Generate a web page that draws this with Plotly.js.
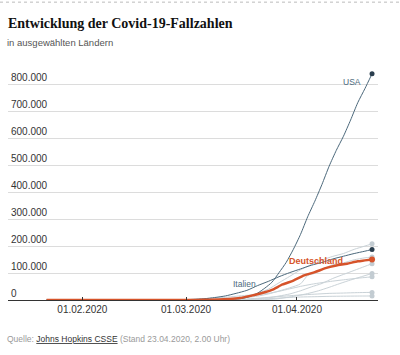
<!DOCTYPE html>
<html>
<head>
<meta charset="utf-8">
<script src="https://cdn.plot.ly/plotly-3.0.1.min.js"></script>
<style>html,body{margin:0;padding:0;background:#fff;}#chart{width:400px;height:355px;}</style>
</head>
<body>
<div id="chart"></div>
<script>
// ---- data (JHU CSSE cumulative confirmed cases) ----
const usaDates = ['2020-01-22','2020-02-01','2020-02-15','2020-03-01','2020-03-05','2020-03-10','2020-03-13','2020-03-15','2020-03-17','2020-03-19','2020-03-21','2020-03-23','2020-03-25','2020-03-27','2020-03-29','2020-03-31','2020-04-02','2020-04-04','2020-04-06','2020-04-08','2020-04-10','2020-04-12','2020-04-14','2020-04-16','2020-04-18','2020-04-20','2020-04-22'];
const usaCases = [1,8,15,75,217,959,2179,3499,6421,13677,25489,43847,65778,101657,139675,188172,243453,308850,366614,429052,496535,555313,607670,667801,732197,784326,839675];

const itaDates = ['2020-01-22','2020-01-31','2020-02-20','2020-02-22','2020-02-25','2020-02-29','2020-03-03','2020-03-06','2020-03-09','2020-03-12','2020-03-15','2020-03-18','2020-03-21','2020-03-24','2020-03-27','2020-03-30','2020-04-02','2020-04-05','2020-04-08','2020-04-11','2020-04-14','2020-04-17','2020-04-20','2020-04-22'];
const itaCases = [0,2,3,62,322,1128,2502,4636,9172,15113,24747,35713,53578,69176,86498,101739,115242,128948,139422,152271,162488,172434,181228,187327];

const deuDates = ['2020-01-22','2020-01-27','2020-02-01','2020-02-20','2020-02-26','2020-03-01','2020-03-04','2020-03-07','2020-03-10','2020-03-13','2020-03-16','2020-03-19','2020-03-22','2020-03-25','2020-03-28','2020-03-31','2020-04-03','2020-04-06','2020-04-09','2020-04-12','2020-04-15','2020-04-18','2020-04-20','2020-04-22'];
const deuCases = [0,1,8,16,27,130,262,799,1457,3675,7272,15320,24873,37323,57695,71808,91159,103374,118181,127854,134753,143724,147065,150648];

const espDates = ['2020-01-22','2020-02-01','2020-02-25','2020-02-29','2020-03-03','2020-03-06','2020-03-09','2020-03-12','2020-03-15','2020-03-18','2020-03-21','2020-03-24','2020-03-27','2020-03-30','2020-04-02','2020-04-05','2020-04-08','2020-04-11','2020-04-14','2020-04-17','2020-04-20','2020-04-22'];
const espCases = [0,1,2,45,165,400,1231,3146,7798,14769,25374,39885,64059,87956,112065,131646,148220,161852,172541,188068,200210,208389];

const fraDates = ['2020-01-22','2020-01-24','2020-02-01','2020-02-25','2020-02-29','2020-03-03','2020-03-06','2020-03-09','2020-03-12','2020-03-15','2020-03-18','2020-03-21','2020-03-24','2020-03-27','2020-03-30','2020-04-02','2020-04-04','2020-04-06','2020-04-08','2020-04-11','2020-04-14','2020-04-17','2020-04-20','2020-04-22'];
const fraCases = [0,2,6,14,100,204,656,1209,2293,4499,9105,14459,22304,33402,45170,59929,90848,98963,113959,130727,137875,149130,156480,159297];

const gbrDates = ['2020-01-22','2020-01-31','2020-02-20','2020-02-29','2020-03-03','2020-03-06','2020-03-09','2020-03-12','2020-03-15','2020-03-18','2020-03-21','2020-03-24','2020-03-27','2020-03-30','2020-04-02','2020-04-05','2020-04-08','2020-04-11','2020-04-14','2020-04-17','2020-04-20','2020-04-22'];
const gbrCases = [0,2,9,23,51,164,322,596,1395,2642,5067,8164,14745,22453,34173,48440,61474,79874,94845,109769,124743,134638];

const turDates = ['2020-01-22','2020-03-11','2020-03-14','2020-03-17','2020-03-20','2020-03-23','2020-03-26','2020-03-29','2020-04-01','2020-04-04','2020-04-07','2020-04-10','2020-04-13','2020-04-16','2020-04-19','2020-04-22'];
const turCases = [0,1,6,47,359,1529,3629,9217,15679,23934,34109,47029,61049,74193,86306,98674];

const irnDates = ['2020-01-22','2020-02-19','2020-02-22','2020-02-25','2020-02-29','2020-03-03','2020-03-06','2020-03-09','2020-03-12','2020-03-15','2020-03-18','2020-03-21','2020-03-24','2020-03-27','2020-03-30','2020-04-02','2020-04-05','2020-04-08','2020-04-11','2020-04-14','2020-04-17','2020-04-20','2020-04-22'];
const irnCases = [0,2,28,95,593,2336,4747,7161,10075,13938,17361,20610,24811,32332,41495,50468,58226,64586,70029,74877,79494,83505,85996];

const cheDates = ['2020-01-22','2020-02-25','2020-03-01','2020-03-05','2020-03-09','2020-03-13','2020-03-17','2020-03-21','2020-03-25','2020-03-29','2020-04-02','2020-04-06','2020-04-10','2020-04-14','2020-04-18','2020-04-22'];
const cheCases = [0,1,27,114,374,1139,2700,6575,10897,14829,18827,21657,24551,25834,27404,28268];

const autDates = ['2020-01-22','2020-02-25','2020-03-01','2020-03-05','2020-03-09','2020-03-13','2020-03-17','2020-03-21','2020-03-25','2020-03-29','2020-04-02','2020-04-06','2020-04-10','2020-04-14','2020-04-18','2020-04-22'];
const autCases = [0,2,10,41,131,504,1332,3244,5588,8813,11129,12297,13560,14226,14671,14925];

const xTickVals = ['2020-02-01','2020-03-01','2020-04-01'];
const xTickText = ['01.02.2020','01.03.2020','01.04.2020'];
const yTickVals = [0,100000,200000,300000,400000,500000,600000,700000,800000];
const yTickText = ['0','100.000','200.000','300.000','400.000','500.000','600.000','700.000','800.000'];

// ---- styles ----
const GREY = '#c9d2d7', GREY_DOT = '#c3ccd2';
const SLATE = '#4b687b', SLATE_DOT = '#2a3e4e';
const ORANGE = '#d6532a';

function line(x, y, color, width) {
  return {x: x, y: y, type: 'scatter', mode: 'lines', line: {color: color, width: width, shape: 'spline', smoothing: 0.6}, hoverinfo: 'skip', cliponaxis: false};
}
function endDot(x, y, color, size) {
  return {x: [x[x.length - 1]], y: [y[y.length - 1]], type: 'scatter', mode: 'markers', marker: {color: color, size: size}, hoverinfo: 'skip', cliponaxis: false};
}

const greySeries = [[espDates, espCases], [fraDates, fraCases], [gbrDates, gbrCases], [turDates, turCases], [irnDates, irnCases], [cheDates, cheCases], [autDates, autCases]];
const traces = [];
greySeries.forEach(s => traces.push(line(s[0], s[1], GREY, 1)));
greySeries.forEach(s => traces.push(endDot(s[0], s[1], GREY_DOT, 5)));
traces.push(line(usaDates, usaCases, SLATE, 1));
traces.push(line(itaDates, itaCases, SLATE, 1));
traces.push(endDot(usaDates, usaCases, SLATE_DOT, 5));
traces.push(endDot(itaDates, itaCases, SLATE_DOT, 5));
traces.push(line(deuDates, deuCases, ORANGE, 2.5));
traces.push(endDot(deuDates, deuCases, ORANGE, 6));

const TOP = 70.5, BOTTOM = 300, PH = BOTTOM - TOP;
const py = px => (BOTTOM - px) / PH;

const layout = {
  width: 400, height: 355,
  margin: {l: 8, r: 22, t: TOP, b: 355 - BOTTOM, pad: 0},
  paper_bgcolor: '#fff', plot_bgcolor: '#fff',
  showlegend: false,
  title: {text: 'Entwicklung der Covid-19-Fallzahlen', font: {family: 'Liberation Serif', size: 14, color: '#111', weight: 700},
          xref: 'container', x: 8 / 400, xanchor: 'left', yref: 'container', y: 1 - 23 / 355, yanchor: 'middle'},
  xaxis: {
    type: 'date', range: ['2020-01-11 05:00', '2020-04-23 16:00'],
    tickvals: xTickVals, ticktext: xTickText,
    showgrid: false, zeroline: false, showline: true, linecolor: '#333', linewidth: 1,
    ticks: 'inside', ticklen: 3, tickcolor: '#333',
    tickfont: {family: 'Liberation Sans', size: 10, color: '#333'}, fixedrange: true
  },
  yaxis: {
    range: [0, 850000], tickvals: yTickVals, ticktext: yTickText,
    ticklabelposition: 'inside top', showgrid: true, gridcolor: '#dcdcdc', gridwidth: 1,
    zeroline: false, showline: false, ticks: '',
    tickfont: {family: 'Liberation Sans', size: 10, color: '#333'}, fixedrange: true
  },
  annotations: [
    {text: 'in ausgewählten Ländern', xref: 'paper', yref: 'paper', x: 0, y: py(42), xanchor: 'left', yanchor: 'middle', showarrow: false, xshift: -3,
     font: {family: 'Liberation Sans', size: 9.5, color: '#555'}},
    {text: 'Quelle: <span style="color:#333"><u>Johns Hopkins CSSE</u></span> (Stand 23.04.2020, 2.00 Uhr)', xref: 'paper', yref: 'paper', x: 0, y: py(339), xanchor: 'left', yanchor: 'middle', showarrow: false, xshift: -3,
     font: {family: 'Liberation Sans', size: 8.5, color: '#9a9a9a'}},
    {text: 'USA', x: '2020-04-19 12:00', y: 811000, xanchor: 'right', yanchor: 'middle', showarrow: false,
     font: {family: 'Liberation Sans', size: 8.5, color: '#4d6a7d'}},
    {text: 'Italien', x: '2020-03-17 06:00', y: 59000, xanchor: 'center', yanchor: 'middle', showarrow: false,
     font: {family: 'Liberation Sans', size: 8.5, color: '#4d6a7d'}},
    {text: '<b>Deutschland</b>', x: '2020-04-06 08:00', y: 144000, xanchor: 'center', yanchor: 'middle', showarrow: false,
     font: {family: 'Liberation Sans', size: 9, color: ORANGE}}
  ],
  shapes: [
    {type: 'line', xref: 'paper', yref: 'paper', x0: -8 / 370, x1: 392 / 370, y0: py(1.5), y1: py(1.5), line: {color: '#bbb', width: 1, dash: 'dot'}}
  ]
};

Plotly.newPlot('chart', traces, layout, {staticPlot: true, displayModeBar: false});
</script>
</body>
</html>
